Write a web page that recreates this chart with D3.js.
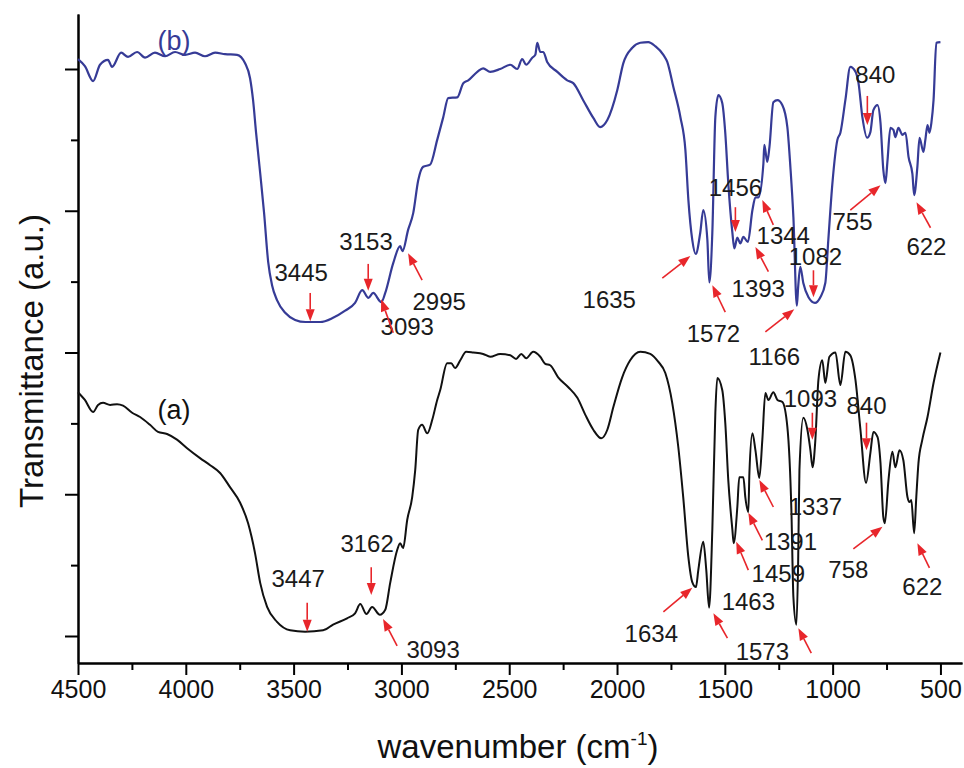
<!DOCTYPE html>
<html>
<head>
<meta charset="utf-8">
<script src="https://cdn.jsdelivr.net/npm/d3@7"></script>
<style>
  body { margin: 0; background: #fff; }
  text { font-family: "Liberation Sans", Arial, sans-serif; }
</style>
</head>
<body>
<div id="chart"></div>
<script>
// spectra: [wavenumber, transmittance (a.u.)]
const spectrumB = [
  [4500,8.14],[4468,8.04],[4430,7.83],[4398,8.06],[4361,8.13],[4342,8.03],[4300,8.23],[4268,8.17],
  [4226,8.24],[4189,8.16],[4143,8.23],[4096,8.18],[4050,8.24],[4003,8.20],[3957,8.23],[3911,8.18],
  [3864,8.23],[3818,8.21],[3762,8.20],[3725,8.08],[3702,7.87],[3688,7.56],[3674,7.10],[3655,6.53],
  [3637,5.97],[3618,5.28],[3600,4.95],[3577,4.74],[3539,4.56],[3493,4.46],[3445,4.43],[3377,4.43],
  [3317,4.49],[3261,4.59],[3215,4.70],[3182,4.88],[3153,4.77],[3131,4.84],[3093,4.71],[3075,4.84],
  [3038,5.26],[3006,5.50],[2995,5.43],[2969,5.73],[2945,5.97],[2922,6.43],[2899,6.62],[2867,6.65],
  [2834,7.00],[2806,7.32],[2783,7.59],[2741,7.60],[2713,7.80],[2690,7.84],[2648,7.96],[2621,8.01],
  [2588,7.96],[2542,8.00],[2495,8.06],[2463,8.00],[2440,8.14],[2421,8.06],[2393,8.16],[2379,8.20],
  [2370,8.37],[2356,8.24],[2342,8.24],[2324,8.10],[2277,7.96],[2231,7.84],[2203,7.80],[2157,7.56],
  [2110,7.31],[2078,7.18],[2045,7.28],[1999,7.70],[1971,8.08],[1929,8.30],[1892,8.37],[1855,8.38],
  [1822,8.32],[1785,8.20],[1767,8.10],[1739,7.75],[1706,7.32],[1683,6.86],[1669,6.15],[1651,5.59],
  [1635,5.39],[1614,5.69],[1600,6.01],[1581,5.59],[1572,4.99],[1558,5.69],[1544,7.32],[1530,7.63],
  [1512,7.52],[1498,7.10],[1484,6.39],[1465,5.69],[1456,5.47],[1442,5.62],[1428,5.54],[1414,5.63],
  [1393,5.56],[1372,6.01],[1358,6.19],[1344,6.19],[1321,6.67],[1317,6.93],[1303,6.69],[1293,6.90],
  [1275,7.53],[1256,7.56],[1233,7.49],[1210,7.18],[1196,6.62],[1182,5.91],[1166,4.66],[1160,4.92],
  [1150,5.21],[1136,4.98],[1112,4.78],[1082,4.70],[1057,4.78],[1034,4.98],[1020,5.59],[1001,6.39],
  [978,7.00],[964,7.10],[941,7.56],[918,8.03],[894,7.96],[880,7.80],[862,7.32],[840,7.03],
  [825,7.11],[811,7.42],[792,7.49],[778,7.24],[765,6.58],[755,6.39],[746,6.69],[732,7.17],
  [718,7.14],[709,7.04],[695,7.17],[676,7.07],[662,7.10],[648,6.76],[630,6.52],[622,6.22],
  [607,6.62],[597,7.03],[579,6.83],[570,7.00],[560,7.21],[551,7.10],[542,7.24],[532,7.56],
  [519,8.37],[500,8.38]
];

const spectrumA = [
  [4500,3.44],[4468,3.33],[4430,3.16],[4407,3.26],[4384,3.29],[4351,3.26],[4319,3.27],[4291,3.25],
  [4249,3.15],[4212,3.09],[4166,2.98],[4129,2.88],[4087,2.85],[4041,2.77],[3994,2.65],[3934,2.51],
  [3887,2.41],[3841,2.30],[3795,2.10],[3748,1.88],[3711,1.59],[3679,1.17],[3655,0.75],[3623,0.41],
  [3577,0.20],[3516,0.08],[3447,0.06],[3363,0.08],[3317,0.16],[3252,0.25],[3215,0.32],[3191,0.45],
  [3162,0.31],[3136,0.41],[3100,0.30],[3075,0.37],[3052,0.75],[3020,1.21],[3006,1.31],[2992,1.24],
  [2973,1.64],[2950,1.96],[2936,2.34],[2922,2.91],[2904,2.98],[2880,2.86],[2857,3.05],[2834,3.33],
  [2820,3.47],[2788,3.85],[2769,3.85],[2751,3.78],[2727,3.89],[2700,4.01],[2667,4.00],[2621,3.98],
  [2588,3.94],[2542,3.98],[2495,3.96],[2468,3.91],[2444,3.98],[2421,3.92],[2389,4.01],[2356,3.94],
  [2333,3.84],[2310,3.82],[2273,3.65],[2226,3.51],[2184,3.36],[2147,3.12],[2110,2.91],[2073,2.79],
  [2045,2.91],[2017,3.23],[1976,3.65],[1939,3.89],[1892,4.01],[1846,3.98],[1809,3.87],[1776,3.71],
  [1744,3.29],[1716,2.67],[1693,1.96],[1669,1.11],[1651,0.76],[1634,0.69],[1623,0.93],[1600,1.33],
  [1586,0.93],[1573,0.40],[1558,1.50],[1544,3.15],[1535,3.64],[1512,3.47],[1498,3.01],[1484,2.20],
  [1465,1.50],[1459,1.31],[1442,1.82],[1433,2.24],[1414,2.24],[1405,1.96],[1391,1.75],[1386,2.30],
  [1372,2.86],[1358,2.62],[1340,2.23],[1326,2.77],[1312,3.43],[1298,3.33],[1275,3.44],[1256,3.33],
  [1233,3.30],[1210,2.95],[1191,1.74],[1182,0.55],[1168,0.16],[1160,1.03],[1154,2.34],[1136,3.08],
  [1117,2.91],[1103,2.62],[1093,2.38],[1080,2.77],[1066,3.61],[1048,3.89],[1034,3.57],[1015,3.94],
  [987,4.00],[964,3.54],[941,4.01],[918,3.96],[894,3.61],[871,2.91],[845,2.16],[825,2.58],
  [811,2.88],[792,2.81],[778,2.44],[765,1.68],[758,1.59],[741,2.20],[723,2.60],[709,2.38],
  [690,2.62],[672,2.48],[653,1.96],[644,1.89],[635,1.92],[622,1.45],[612,1.96],[602,2.44],
  [584,2.77],[560,3.09],[532,3.57],[500,4.00]
];

const xTicks = [4500, 4000, 3500, 3000, 2500, 2000, 1500, 1000, 500];
const xMinorTicks = [4250, 3750, 3250, 2750, 2250, 1750, 1250, 750];
const yTicks = [0, 2, 4, 6, 8];
const yMinorTicks = [1, 3, 5, 7];

// peak labels: text, label anchor [wn, value]
const labelsB = [
  ["3445", 3465, 5.01], ["3153", 3164, 5.45], ["3093", 2973, 4.25], ["2995", 2825, 4.60],
  ["1635", 2036, 4.63], ["1572", 1553, 4.15], ["1456", 1451, 6.21], ["1344", 1229, 5.53],
  ["1393", 1345, 4.78], ["1082", 1080, 5.24], ["1166", 1270, 3.82], ["755", 908, 5.73],
  ["840", 802, 7.80], ["622", 565, 5.38]
];
const labelsA = [
  ["3447", 3479, 0.69], ["3162", 3159, 1.19], ["3093", 2853, -0.31], ["1634", 1841, -0.08],
  ["1463", 1391, 0.37], ["1573", 1326, -0.34], ["1459", 1252, 0.76], ["1391", 1196, 1.21],
  ["1337", 1080, 1.71], ["1093", 1103, 3.23], ["840", 843, 3.13], ["758", 927, 0.82],
  ["622", 584, 0.58]
];
// arrows: [from wn, from value, to wn, to value]
const arrows = [
  [3423, 4.84, 3423, 4.44], [3154, 5.25, 3154, 4.87], [3038, 4.28, 3094, 4.75], [2904, 5.02, 2969, 5.40],
  [1790, 5.05, 1660, 5.36], [1498, 4.57, 1558, 4.95], [1451, 6.05, 1451, 5.70], [1275, 5.80, 1326, 6.15],
  [1298, 5.14, 1358, 5.49], [1089, 5.16, 1089, 4.78], [1312, 4.29, 1178, 4.61], [918, 6.01, 778, 6.36],
  [839, 7.62, 839, 7.21], [546, 5.76, 611, 6.12],
  [3437, 0.47, 3437, 0.06], [3140, 0.97, 3140, 0.58], [3020, -0.14, 3085, 0.24], [1785, 0.34, 1651, 0.68],
  [1488, -0.03, 1553, 0.32], [1391, 0.93, 1447, 1.33], [1326, 1.35, 1391, 1.74], [1275, 1.82, 1340, 2.20],
  [1099, -0.24, 1159, 0.11], [1094, 3.15, 1094, 2.77], [843, 3.01, 843, 2.62], [904, 1.23, 769, 1.54],
  [551, 0.96, 607, 1.31]
];

const blue = "#363b96", red = "#e8262b";
const W = 964, H = 768;
const svg = d3.select("#chart").append("svg")
  .attr("width", W).attr("height", H);

const x = d3.scaleLinear().domain([4500, 400]).range([78, 962]);
const y = d3.scaleLinear().domain([-0.381, 8.776]).range([663, 14]);

// axes
function styleAxis(g) {
  g.selectAll("path").attr("stroke", "#000").attr("stroke-width", 2);
  g.selectAll("line").attr("stroke", "#000").attr("stroke-width", 2);
}
svg.append("g").attr("transform", "translate(0,663)")
  .call(d3.axisBottom(x).tickValues(xMinorTicks).tickSize(7).tickFormat("").tickSizeOuter(0))
  .call(styleAxis);
const gx = svg.append("g").attr("transform", "translate(0,663)")
  .call(d3.axisBottom(x).tickValues(xTicks).tickSize(12).tickPadding(5).tickSizeOuter(0).tickFormat(d3.format("d")))
  .call(styleAxis);
gx.selectAll("text").attr("font-size", 25).attr("fill", "#111")
  .attr("font-family", '"Liberation Sans", Arial, sans-serif');

svg.append("g").attr("transform", "translate(78,0)")
  .call(d3.axisLeft(y).tickValues(yMinorTicks).tickSize(7).tickFormat("").tickSizeOuter(0))
  .call(styleAxis);
svg.append("g").attr("transform", "translate(78,0)")
  .call(d3.axisLeft(y).tickValues(yTicks).tickSize(13).tickFormat("").tickSizeOuter(0))
  .call(styleAxis);

// axis titles
const xt = svg.append("text").attr("x", 518).attr("y", 758)
  .attr("text-anchor", "middle").attr("font-size", 33).attr("fill", "#111");
xt.append("tspan").text("wavenumber (cm");
xt.append("tspan").attr("font-size", 19).attr("dy", -13).text("-1");
xt.append("tspan").attr("dy", 13).text(")");

svg.append("text")
  .attr("transform", "translate(43,361) rotate(-90)")
  .attr("text-anchor", "middle").attr("font-size", 33).attr("fill", "#111")
  .text("Transmittance (a.u.)");

// spectra
const line = d3.line().x(d => x(d[0])).y(d => y(d[1])).curve(d3.curveMonotoneX);
svg.append("path").datum(spectrumB).attr("d", line)
  .attr("fill", "none").attr("stroke", blue).attr("stroke-width", 2.2).attr("stroke-linejoin", "round");
svg.append("path").datum(spectrumA).attr("d", line)
  .attr("fill", "none").attr("stroke", "#111").attr("stroke-width", 2).attr("stroke-linejoin", "round");

// curve names
svg.append("text").attr("x", x(4055)).attr("y", y(8.27)).attr("text-anchor", "middle")
  .attr("font-size", 27).attr("fill", blue).text("(b)");
svg.append("text").attr("x", x(4055)).attr("y", y(3.06)).attr("text-anchor", "middle")
  .attr("font-size", 27).attr("fill", "#111").text("(a)");

// peak labels
svg.append("g").selectAll("text")
  .data(labelsB.concat(labelsA))
  .join("text")
    .attr("x", d => x(d[1])).attr("y", d => y(d[2]))
    .attr("text-anchor", "middle").attr("font-size", 24).attr("fill", "#1a1a1a")
    .text(d => d[0]);

// red arrows
const ag = svg.append("g");
arrows.forEach(a => {
  const x1 = x(a[0]), y1 = y(a[1]), x2 = x(a[2]), y2 = y(a[3]);
  const len = Math.hypot(x2 - x1, y2 - y1);
  const ux = (x2 - x1) / len, uy = (y2 - y1) / len;
  const hl = 12, hw = 4.5;
  const bx = x2 - ux * hl, by = y2 - uy * hl;
  ag.append("line").attr("x1", x1).attr("y1", y1).attr("x2", bx).attr("y2", by)
    .attr("stroke", red).attr("stroke-width", 1.6);
  ag.append("polygon")
    .attr("points", [[x2, y2], [bx - uy * hw, by + ux * hw], [bx + uy * hw, by - ux * hw]].map(p => p.join(",")).join(" "))
    .attr("fill", red);
});
</script>
</body>
</html>
